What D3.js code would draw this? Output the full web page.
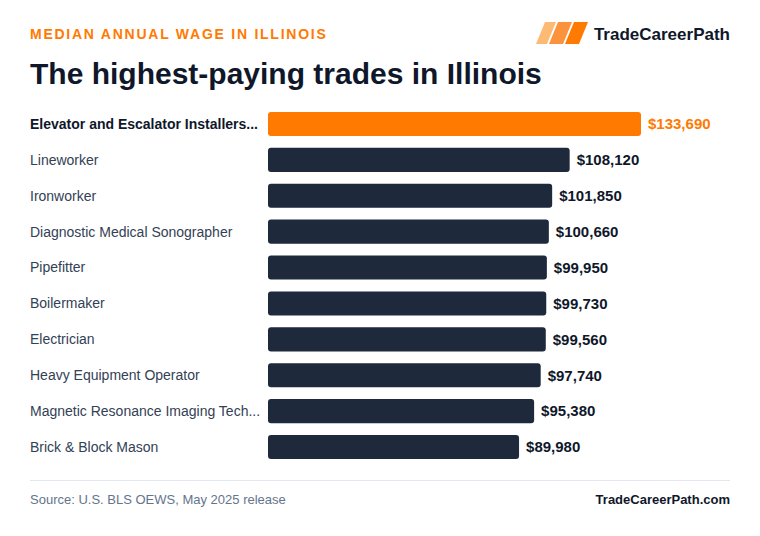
<!DOCTYPE html>
<html><head><meta charset="utf-8">
<script src="https://cdn.jsdelivr.net/npm/d3@7"></script>
<style>body{margin:0;background:#fff}svg{display:block;font-family:"Liberation Sans",Arial,sans-serif}</style>
</head><body><svg id="c" width="760" height="536"></svg>
<script>
const categories = ["Elevator and Escalator Installers...","Lineworker","Ironworker","Diagnostic Medical Sonographer","Pipefitter","Boilermaker","Electrician","Heavy Equipment Operator","Magnetic Resonance Imaging Tech...","Brick & Block Mason"];
const wages = [133690,108120,101850,100660,99950,99730,99560,97740,95380,89980];
const highlight = [true,false,false,false,false,false,false,false,false,false];

const svg = d3.select("#c");
const x = d3.scaleLinear().domain([0, d3.max(wages)]).range([268, 641]);
const y = d3.scaleBand().domain(categories).range([106, 465]).paddingInner(0.33).paddingOuter(0.165);
const fmt = v => "$" + d3.format(",")(v);

// header
svg.append("text").attr("x",30).attr("y",39).attr("fill","#ff7a00").attr("font-size",14).attr("font-weight",700).attr("letter-spacing",1.75).text("MEDIAN ANNUAL WAGE IN ILLINOIS");
svg.append("text").attr("x",30).attr("y",84).attr("fill","#0f172a").attr("font-size",30).attr("font-weight",700).text("The highest-paying trades in Illinois");

// logo
const logoShapes = [
  {c:"#fdba74", b0:536, b1:547, t0:545, t1:556},
  {c:"#fb923c", b0:549, b1:563, t0:558, t1:572},
  {c:"#ff7a00", b0:565, b1:579, t0:574, t1:588}
];
logoShapes.forEach(s=>{
  svg.append("path").attr("d",`M${s.b0} 44 L${s.t0} 22 L${s.t1} 22 L${s.b1} 44 Z`).attr("fill",s.c);
});
svg.append("text").attr("x",730).attr("y",40).attr("text-anchor","end").attr("fill","#0f172a").attr("font-size",17).attr("font-weight",700).text("TradeCareerPath");

// rows
const g = svg.append("g");
g.selectAll("rect").data(categories).join("rect")
  .attr("x", x(0)).attr("y", d=>y(d)).attr("height", y.bandwidth())
  .attr("width", (d,i)=>x(wages[i])-x(0)).attr("rx",3)
  .attr("fill", (d,i)=>highlight[i] ? "#ff7a00" : "#1e293b");
g.selectAll("text.lab").data(categories).join("text").attr("class","lab")
  .attr("x",30).attr("y", d=>y(d)+y.bandwidth()/2).attr("dy","0.35em")
  .attr("font-size",14).attr("font-weight",(d,i)=>highlight[i]?700:400)
  .attr("fill",(d,i)=>highlight[i]?"#0f172a":"#334155").text(d=>d);
g.selectAll("text.val").data(categories).join("text").attr("class","val")
  .attr("x",(d,i)=>x(wages[i])+7).attr("y", d=>y(d)+y.bandwidth()/2).attr("dy","0.35em")
  .attr("font-size",15).attr("font-weight",700)
  .attr("fill",(d,i)=>highlight[i]?"#ff7a00":"#0f172a").text((d,i)=>fmt(wages[i]));

// footer
svg.append("line").attr("x1",30).attr("x2",730).attr("y1",480.5).attr("y2",480.5).attr("stroke","#e5e7f0").attr("stroke-width",1);
svg.append("text").attr("x",30).attr("y",504).attr("fill","#64748b").attr("font-size",13).text("Source: U.S. BLS OEWS, May 2025 release");
svg.append("text").attr("x",730).attr("y",504).attr("text-anchor","end").attr("fill","#0f172a").attr("font-size",13).attr("font-weight",700).text("TradeCareerPath.com");
</script></body></html>
